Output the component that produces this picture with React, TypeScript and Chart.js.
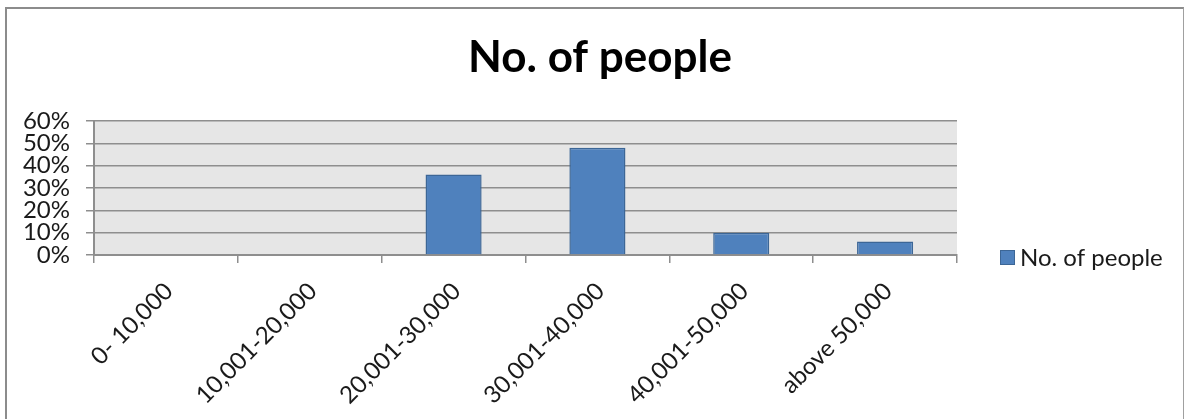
import React, { useEffect, useRef } from "react";
import { Chart, registerables } from "chart.js";

Chart.register(...registerables);

const chartTitle = "No. of people";
const categories = ["0- 10,000", "10,001-20,000", "20,001-30,000", "30,001-40,000", "40,001-50,000", "above 50,000"];
const seriesLabel = "No. of people";
const seriesValues = [0, 0, 36, 48, 10, 6];
const yMin = 0;
const yMax = 60;
const yStep = 10;

const W = 1186;
const H = 419;
const FONT = "Lato, 'Open Sans', sans-serif";
const BAR_FILL = "#4f81bd";
const BAR_EDGE = "#3c6696";
const GRID = "#8e8e8e";

export default function App() {
  const ref = useRef<HTMLCanvasElement | null>(null);

  useEffect(() => {
    const canvas = ref.current;
    if (!canvas) return;

    const plotBg = {
      id: "plotBg",
      beforeDraw(chart: any) {
        const { ctx, chartArea } = chart;
        ctx.save();
        ctx.fillStyle = "#e6e6e6";
        ctx.fillRect(chartArea.left, chartArea.top, chartArea.right - chartArea.left, chartArea.bottom - chartArea.top);
        ctx.restore();
      },
    };

    const sideLegend = {
      id: "sideLegend",
      afterDraw(chart: any) {
        const { ctx } = chart;
        const ds = chart.data.datasets[0];
        const boxX = 1000;
        const boxY = 250;
        const box = 15;
        ctx.save();
        ctx.fillStyle = ds.backgroundColor;
        ctx.fillRect(boxX, boxY, box, box);
        ctx.strokeStyle = ds.borderColor;
        ctx.lineWidth = 1;
        ctx.strokeRect(boxX + 0.5, boxY + 0.5, box - 1, box - 1);
        ctx.fillStyle = "#1a1a1a";
        ctx.font = `24px ${FONT}`;
        ctx.textBaseline = "middle";
        ctx.textAlign = "left";
        ctx.fillText(ds.label, boxX + box + 5, boxY + box / 2 + 1);
        ctx.restore();
      },
    };

    const chart = new Chart(canvas, {
      type: "bar",
      data: {
        labels: categories,
        datasets: [
          {
            label: seriesLabel,
            data: seriesValues,
            backgroundColor: BAR_FILL,
            borderColor: BAR_EDGE,
            borderWidth: 1.5,
            categoryPercentage: 1,
            barPercentage: 0.39,
            yAxisID: "y",
          },
        ],
      },
      options: {
        responsive: false,
        animation: false,
        devicePixelRatio: 1,
        layout: { padding: { left: 14, right: 0, top: 0, bottom: 0 } },
        plugins: {
          legend: { display: false },
          tooltip: { enabled: false },
          title: {
            display: true,
            text: chartTitle,
            color: "#000",
            font: { family: FONT, size: 44, weight: "bold", lineHeight: 1.2 },
            padding: { top: 31.6, bottom: 36.6 },
          },
        },
        scales: {
          x: {
            afterFit(scale: any) {
              scale.height = H - 255;
            },
            grid: {
              display: true,
              drawOnChartArea: false,
              drawTicks: true,
              tickLength: 8,
              color: GRID,
              lineWidth: 1.5,
              offset: true,
            },
            border: { display: true, color: GRID, width: 2 },
            ticks: {
              autoSkip: false,
              minRotation: 45,
              maxRotation: 45,
              color: "#1a1a1a",
              font: { family: FONT, size: 24 },
              padding: 14,
              labelOffset: 3,
            },
          },
          y: {
            min: yMin,
            max: yMax,
            afterFit(scale: any) {
              scale.width = 80;
            },
            grid: {
              display: true,
              drawTicks: true,
              tickLength: 8,
              color: GRID,
              lineWidth: 1.5,
            },
            border: { display: true, color: GRID, width: 2 },
            ticks: {
              stepSize: yStep,
              autoSkip: false,
              color: "#1a1a1a",
              font: { family: FONT, size: 24, lineHeight: 1 },
              padding: 16,
              callback: (v: any) => `${v}%`,
            },
          },
          legendSpace: {
            type: "linear",
            position: "right",
            display: true,
            afterFit(scale: any) {
              scale.width = W - 957;
            },
            grid: { display: false },
            border: { display: false },
            ticks: { display: false },
          },
        },
      },
      plugins: [plotBg, sideLegend],
    });

    return () => chart.destroy();
  }, []);

  return (
    <div style={{ position: "absolute", left: 0, top: 0, width: W, height: H, background: "#fff", overflow: "hidden" }}>
      <div
        style={{
          position: "absolute",
          left: 5,
          top: 7,
          width: 1186 - 5 - 2,
          height: 500,
          borderTop: "2px solid #8c8c8c",
          borderLeft: "2px solid #8c8c8c",
          borderRight: "1px solid #a0a0a0",
          boxSizing: "border-box",
        }}
      />
      <canvas ref={ref} width={W} height={H} style={{ position: "absolute", left: 0, top: 0, width: W, height: H }} />
    </div>
  );
}
